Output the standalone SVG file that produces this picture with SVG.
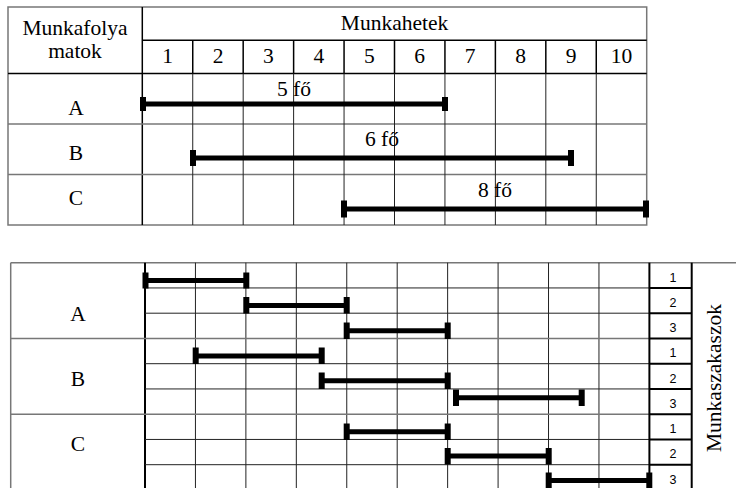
<svg xmlns="http://www.w3.org/2000/svg" width="736" height="488" viewBox="0 0 736 488">
<style>
.t{font-family:"Liberation Serif","Times New Roman",serif;font-size:21.5px;fill:#000}
.n{font-family:"Liberation Sans",Arial,sans-serif;font-size:12.5px;fill:#000}
.m{text-anchor:middle}
.g{stroke:#222;stroke-width:1;fill:none}
.gg{stroke:#777;stroke-width:1.5;fill:none}
.k{stroke:#000;stroke-width:1.5;fill:none}
.kk{stroke:#000;stroke-width:2;fill:none}
.bar{stroke:#000;stroke-width:5;fill:none}
.cap{fill:#000}
</style>
<rect width="736" height="488" fill="#fff"/>
<g id="grid-top">
  <rect x="8" y="7" width="638.7" height="218" class="gg"/>
  <line x1="142.3" y1="7" x2="142.3" y2="225" class="k"/>
  <line x1="142.3" y1="40.3" x2="646.7" y2="40.3" class="k"/>
  <line x1="8" y1="73.5" x2="646.7" y2="73.5" class="k"/>
  <line x1="8" y1="124" x2="646.7" y2="124" class="gg"/>
  <line x1="8" y1="174.5" x2="646.7" y2="174.5" class="gg"/>
  <g class="k">
    <line x1="192.74" y1="40.3" x2="192.74" y2="73.5"/>
    <line x1="243.18" y1="40.3" x2="243.18" y2="73.5"/>
    <line x1="293.62" y1="40.3" x2="293.62" y2="73.5"/>
    <line x1="344.06" y1="40.3" x2="344.06" y2="73.5"/>
    <line x1="394.5" y1="40.3" x2="394.5" y2="73.5"/>
    <line x1="444.94" y1="40.3" x2="444.94" y2="73.5"/>
    <line x1="495.38" y1="40.3" x2="495.38" y2="73.5"/>
    <line x1="545.82" y1="40.3" x2="545.82" y2="73.5"/>
    <line x1="596.26" y1="40.3" x2="596.26" y2="73.5"/>
  </g>
  <g class="g">
    <line x1="192.74" y1="73.5" x2="192.74" y2="225"/>
    <line x1="243.18" y1="73.5" x2="243.18" y2="225"/>
    <line x1="293.62" y1="73.5" x2="293.62" y2="225"/>
    <line x1="344.06" y1="73.5" x2="344.06" y2="225"/>
    <line x1="394.5" y1="73.5" x2="394.5" y2="225"/>
    <line x1="444.94" y1="73.5" x2="444.94" y2="225"/>
    <line x1="495.38" y1="73.5" x2="495.38" y2="225"/>
    <line x1="545.82" y1="73.5" x2="545.82" y2="225"/>
    <line x1="596.26" y1="73.5" x2="596.26" y2="225"/>
  </g>
</g>
<g id="header-top">
  <text class="t m" x="75" y="34.5">Munkafolya</text>
  <text class="t m" x="75" y="58">matok</text>
  <text class="t m" x="394.5" y="30">Munkahetek</text>
  <text class="t m" x="167.5" y="63.3">1</text>
  <text class="t m" x="218" y="63.3">2</text>
  <text class="t m" x="268.4" y="63.3">3</text>
  <text class="t m" x="318.8" y="63.3">4</text>
  <text class="t m" x="369.3" y="63.3">5</text>
  <text class="t m" x="419.7" y="63.3">6</text>
  <text class="t m" x="470.2" y="63.3">7</text>
  <text class="t m" x="520.6" y="63.3">8</text>
  <text class="t m" x="571" y="63.3">9</text>
  <text class="t m" x="621.5" y="63.3">10</text>
</g>
<g id="node-top-A">
  <text class="t m" x="76" y="115">A</text>
  <text class="t m" x="294" y="96">5 fő</text>
</g>
<g id="node-top-B">
  <text class="t m" x="76" y="160">B</text>
  <text class="t m" x="382" y="146">6 fő</text>
</g>
<g id="node-top-C">
  <text class="t m" x="76" y="204.5">C</text>
  <text class="t m" x="495" y="197">8 fő</text>
</g>
<g id="connectors-top">
  <line x1="143" y1="104" x2="445" y2="104" class="bar"/>
  <rect x="140" y="97" width="6" height="14" class="cap"/>
  <rect x="442" y="97" width="6" height="14" class="cap"/>
  <line x1="193" y1="158" x2="571" y2="158" class="bar"/>
  <rect x="190" y="150" width="6" height="16" class="cap"/>
  <rect x="568" y="150" width="6" height="16" class="cap"/>
  <line x1="344" y1="209" x2="646" y2="209" class="bar"/>
  <rect x="341" y="200.5" width="6" height="17" class="cap"/>
  <rect x="643" y="200.5" width="6" height="17" class="cap"/>
</g>
<g id="grid-bottom">
  <line x1="10.7" y1="262.7" x2="736" y2="262.7" class="gg"/>
  <line x1="10.7" y1="262.7" x2="10.7" y2="488" class="gg"/>
  <line x1="145" y1="262.7" x2="145" y2="488" class="kk"/>
  <g class="g">
    <line x1="195.44" y1="262.7" x2="195.44" y2="488"/>
    <line x1="245.88" y1="262.7" x2="245.88" y2="488"/>
    <line x1="296.32" y1="262.7" x2="296.32" y2="488"/>
    <line x1="346.76" y1="262.7" x2="346.76" y2="488"/>
    <line x1="397.2" y1="262.7" x2="397.2" y2="488"/>
    <line x1="447.64" y1="262.7" x2="447.64" y2="488"/>
    <line x1="498.08" y1="262.7" x2="498.08" y2="488"/>
    <line x1="548.52" y1="262.7" x2="548.52" y2="488"/>
    <line x1="598.96" y1="262.7" x2="598.96" y2="488"/>
    <line x1="145" y1="287.95" x2="649.4" y2="287.95"/>
    <line x1="145" y1="313.2" x2="649.4" y2="313.2"/>
    <line x1="145" y1="363.7" x2="649.4" y2="363.7"/>
    <line x1="145" y1="388.95" x2="649.4" y2="388.95"/>
    <line x1="145" y1="439.45" x2="649.4" y2="439.45"/>
    <line x1="145" y1="464.7" x2="649.4" y2="464.7"/>
  </g>
  <line x1="10.7" y1="338.45" x2="649.4" y2="338.45" class="gg"/>
  <line x1="10.7" y1="414.2" x2="649.4" y2="414.2" class="gg"/>
  <g class="kk">
    <line x1="649.4" y1="262.7" x2="649.4" y2="488"/>
    <line x1="691.7" y1="262.7" x2="691.7" y2="488"/>
    <line x1="649.4" y1="287.95" x2="691.7" y2="287.95"/>
    <line x1="649.4" y1="313.2" x2="691.7" y2="313.2"/>
    <line x1="649.4" y1="338.45" x2="691.7" y2="338.45"/>
    <line x1="649.4" y1="363.7" x2="691.7" y2="363.7"/>
    <line x1="649.4" y1="388.95" x2="691.7" y2="388.95"/>
    <line x1="649.4" y1="414.2" x2="691.7" y2="414.2"/>
    <line x1="649.4" y1="439.45" x2="691.7" y2="439.45"/>
    <line x1="649.4" y1="464.7" x2="691.7" y2="464.7"/>
  </g>
</g>
<g id="labels-bottom">
  <text class="n m" x="673" y="281.5">1</text>
  <text class="n m" x="673" y="306.7">2</text>
  <text class="n m" x="673" y="332">3</text>
  <text class="n m" x="673" y="357.2">1</text>
  <text class="n m" x="673" y="382.5">2</text>
  <text class="n m" x="673" y="407.7">3</text>
  <text class="n m" x="673" y="433">1</text>
  <text class="n m" x="673" y="458.2">2</text>
  <text class="n m" x="673" y="483.5">3</text>
  <text class="t m" transform="translate(721 378) rotate(-90)">Munkaszakaszok</text>
</g>
<g id="node-bottom-A"><text class="t m" x="78" y="320.5">A</text></g>
<g id="node-bottom-B"><text class="t m" x="78" y="386">B</text></g>
<g id="node-bottom-C"><text class="t m" x="78" y="450.5">C</text></g>
<g id="connectors-bottom">
  <line x1="145.5" y1="280.5" x2="246.3" y2="280.5" class="bar"/>
  <rect x="142.5" y="272.5" width="6" height="16" class="cap"/>
  <rect x="243.3" y="272.5" width="6" height="16" class="cap"/>
  <line x1="246.3" y1="305.5" x2="346.7" y2="305.5" class="bar"/>
  <rect x="243.3" y="297" width="6" height="16.5" class="cap"/>
  <rect x="343.7" y="297" width="6" height="16.5" class="cap"/>
  <line x1="346.7" y1="330.7" x2="447.7" y2="330.7" class="bar"/>
  <rect x="343.7" y="322.5" width="6" height="16.5" class="cap"/>
  <rect x="444.7" y="322.5" width="6" height="16.5" class="cap"/>
  <line x1="195.7" y1="356" x2="321.7" y2="356" class="bar"/>
  <rect x="192.7" y="347.5" width="6" height="16.5" class="cap"/>
  <rect x="318.7" y="347.5" width="6" height="16.5" class="cap"/>
  <line x1="321.7" y1="380.7" x2="447.7" y2="380.7" class="bar"/>
  <rect x="318.7" y="372.5" width="6" height="16.5" class="cap"/>
  <rect x="444.7" y="372.5" width="6" height="16.5" class="cap"/>
  <line x1="456" y1="397.7" x2="581.7" y2="397.7" class="bar"/>
  <rect x="453" y="389.5" width="6" height="16.5" class="cap"/>
  <rect x="578.7" y="389.5" width="6" height="16.5" class="cap"/>
  <line x1="346.7" y1="431.7" x2="447.7" y2="431.7" class="bar"/>
  <rect x="343.7" y="423.5" width="6" height="16.5" class="cap"/>
  <rect x="444.7" y="423.5" width="6" height="16.5" class="cap"/>
  <line x1="447.7" y1="456" x2="548.7" y2="456" class="bar"/>
  <rect x="444.7" y="448" width="6" height="16.5" class="cap"/>
  <rect x="545.7" y="448" width="6" height="16.5" class="cap"/>
  <line x1="548.7" y1="480.5" x2="649.3" y2="480.5" class="bar"/>
  <rect x="545.7" y="472.5" width="6" height="16.5" class="cap"/>
  <rect x="646.3" y="472.5" width="6" height="16.5" class="cap"/>
</g>
</svg>
